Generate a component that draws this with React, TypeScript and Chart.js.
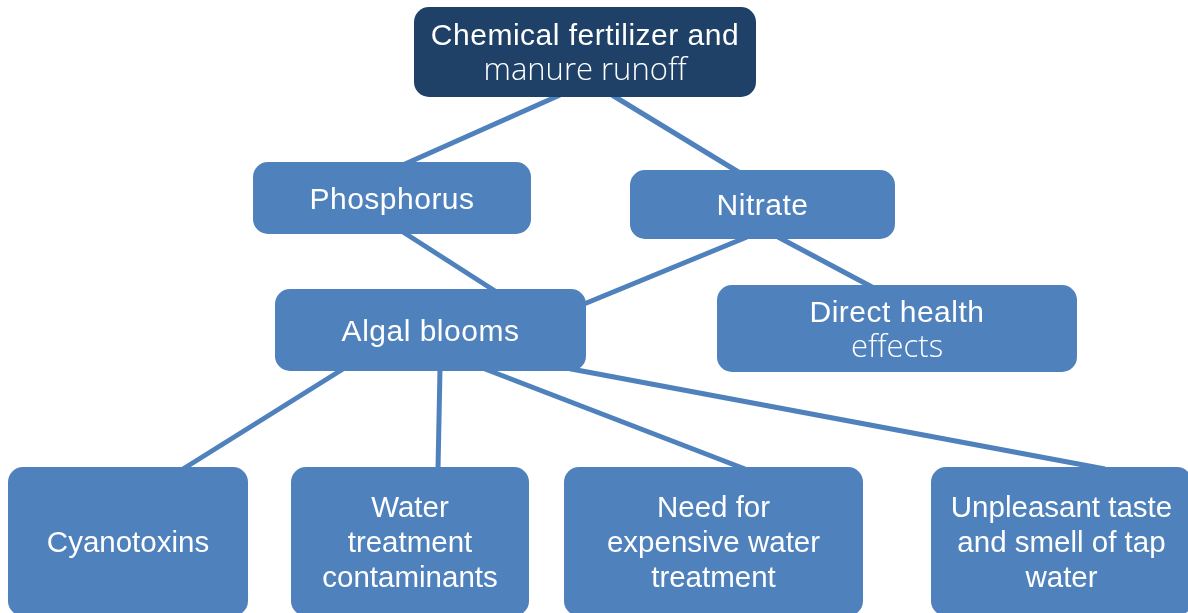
import React, { useEffect, useRef } from "react";
import { Chart, registerables } from "chart.js";

Chart.register(...registerables);

// Diagram nodes (text lines), boxes in diagram coordinates (0..1188 x 0..613)
const nodeLines: string[][] = [
  ["Chemical fertilizer and", "manure runoff"],
  ["Phosphorus"],
  ["Nitrate"],
  ["Algal blooms"],
  ["Direct health", "effects"],
  ["Cyanotoxins"],
  ["Water", "treatment", "contaminants"],
  ["Need for", "expensive water", "treatment"],
  ["Unpleasant taste", "and smell of tap", "water"],
];
const nodeLeft = [414, 253, 630, 275, 717, 8, 291, 564, 931];
const nodeTop = [7, 162, 170, 289, 285, 467, 467, 467, 467];
const nodeRight = [756, 531, 895, 586, 1077, 248, 529, 863, 1192];
const nodeBottom = [97, 234, 239, 371, 372, 616, 616, 616, 616];

// Connectors: start and end points
const linkStartX = [560, 612, 403, 747, 778, 343, 440, 485, 566];
const linkStartY = [95, 95, 232, 237, 237, 369, 369, 369, 368];
const linkEndX = [405, 740, 495, 584, 872, 183, 438, 745, 1105];
const linkEndY = [164, 173, 291, 304, 287, 469, 469, 469, 469];

// Styles (kept apart from the data)
const lightLineIndex = [1, -1, -1, -1, 1, -1, -1, -1, -1];
const darkFill = [true, false, false, false, false, false, false, false, false];
const tracking = [0.5, 0.5, 0.5, 0.5, 0.5, 0, 0, 0, 0];
const fontSizes = [30, 30, 30, 30, 30, 29.5, 29.5, 29.5, 29.5];

const BLUE = "#4F81BD";
const DARK = "#1F4168";

const boxPlugin = {
  id: "boxes",
  afterDatasetsDraw(chart: any) {
    const ctx = chart.ctx as CanvasRenderingContext2D;
    const xs = chart.scales.x;
    const ys = chart.scales.y;
    ctx.save();
    for (let i = 0; i < nodeLines.length; i++) {
      const x1 = xs.getPixelForValue(nodeLeft[i]);
      const x2 = xs.getPixelForValue(nodeRight[i]);
      const y1 = ys.getPixelForValue(nodeTop[i]);
      const y2 = ys.getPixelForValue(nodeBottom[i]);
      ctx.beginPath();
      ctx.roundRect(x1, y1, x2 - x1, y2 - y1, 15);
      ctx.fillStyle = darkFill[i] ? DARK : BLUE;
      ctx.fill();
      const lines = nodeLines[i];
      const lh = 35;
      const fs = fontSizes[i];
      const cap = 30 * 0.716;
      const cx = (x1 + x2) / 2;
      const cy = (y1 + y2) / 2;
      ctx.fillStyle = "#ffffff";
      ctx.textAlign = "center";
      ctx.textBaseline = "alphabetic";
      lines.forEach((t, k) => {
        const light = lightLineIndex[i] === k;
        if (light) {
          ctx.font = `300 31px 'Open Sans', sans-serif`;
          (ctx as any).letterSpacing = "0px";
        } else {
          ctx.font = `${fs}px 'Liberation Sans', Arial, sans-serif`;
          (ctx as any).letterSpacing = `${tracking[i]}px`;
        }
        const by = cy - ((lines.length - 1) * lh) / 2 + cap / 2 + k * lh;
        ctx.fillText(t, cx, by);
      });
    }
    (ctx as any).letterSpacing = "0px";
    ctx.restore();
  },
};

export default function App() {
  const ref = useRef<HTMLCanvasElement | null>(null);
  useEffect(() => {
    if (!ref.current) return;
    const datasets = linkStartX.map((_, i) => ({
      type: "scatter" as const,
      data: [
        { x: linkStartX[i], y: linkStartY[i] },
        { x: linkEndX[i], y: linkEndY[i] },
      ],
      showLine: true,
      borderColor: BLUE,
      borderWidth: 5,
      pointRadius: 0,
      fill: false,
    }));
    const chart = new Chart(ref.current, {
      type: "scatter",
      data: { datasets },
      options: {
        animation: false,
        responsive: false,
        maintainAspectRatio: false,
        layout: { padding: 0 },
        plugins: { legend: { display: false }, tooltip: { enabled: false } },
        scales: {
          x: { type: "linear", min: 0, max: 1188, display: false },
          y: { type: "linear", min: 0, max: 613, reverse: true, display: false },
        },
      },
      plugins: [boxPlugin],
    });
    return () => chart.destroy();
  }, []);
  return (
    <div style={{ position: "absolute", left: 0, top: 0, width: 1188, height: 613, background: "#fff" }}>
      <canvas ref={ref} width={1188} height={613} style={{ width: 1188, height: 613 }} />
    </div>
  );
}
